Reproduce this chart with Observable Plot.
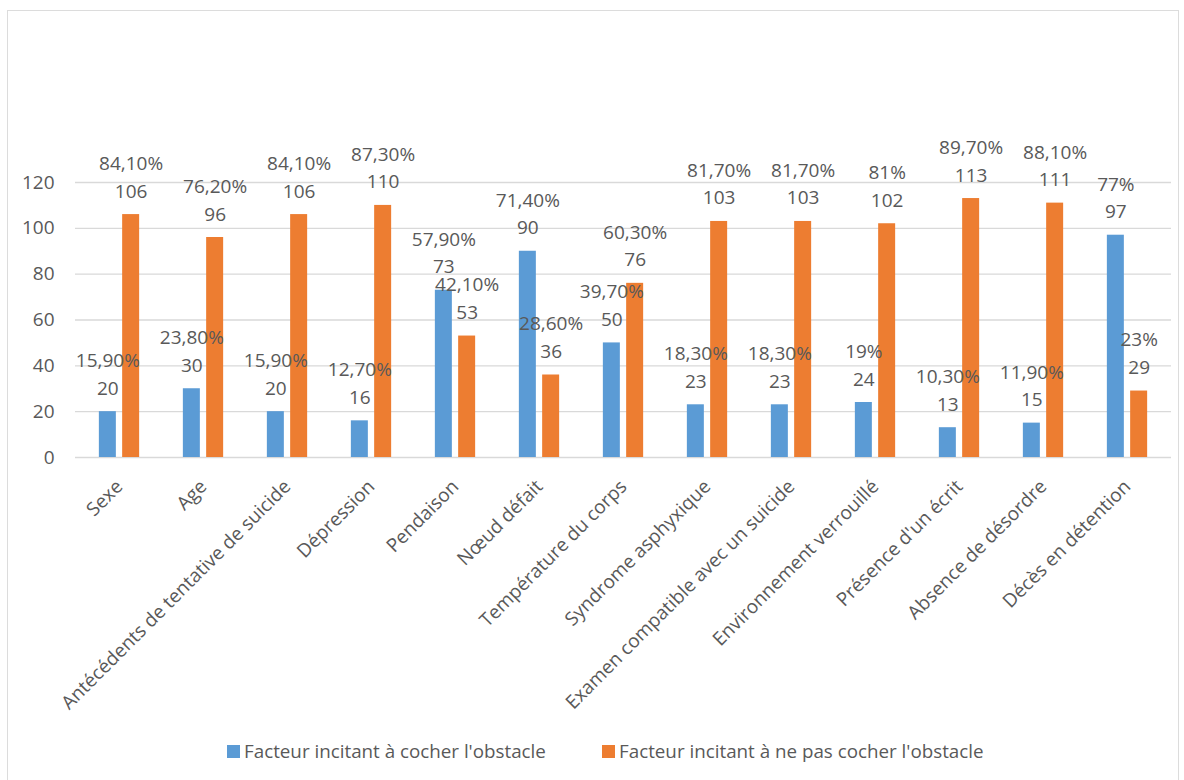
<!DOCTYPE html>
<html>
<head>
<meta charset="utf-8">
<script src="https://cdn.jsdelivr.net/npm/d3@7"></script>
<script src="https://cdn.jsdelivr.net/npm/@observablehq/plot@0.6"></script>
<style>
  html, body { margin: 0; padding: 0; background: #fff; }
  body { width: 1184px; height: 780px; position: relative; overflow: hidden; font-family: "Open Sans", sans-serif; }
  #frame { position: absolute; left: 7px; top: 10px; width: 1172px; height: 780px; border: 1.5px solid #dcdcdc; box-sizing: border-box; }
  #chart { position: absolute; left: 0; top: 0; }
  .leg { position: absolute; top: 738px; display: flex; align-items: center; font-size: 18.8px; color: #595959; white-space: nowrap; }
  .sw { width: 13px; height: 13px; margin-right: 4px; display: inline-block; }
</style>
</head>
<body>
<div id="frame"></div>
<div id="chart"></div>
<div class="leg" style="left:227px"><span class="sw" style="background:#5B9BD5"></span>Facteur incitant à cocher l'obstacle</div>
<div class="leg" style="left:602px"><span class="sw" style="background:#ED7D31"></span>Facteur incitant à ne pas cocher l'obstacle</div>
<script>
const categories = [
  "Sexe", "Age", "Antécédents de tentative de suicide", "Dépression", "Pendaison",
  "Nœud défait", "Température du corps", "Syndrome asphyxique",
  "Examen compatible avec un suicide", "Environnement verrouillé",
  "Présence d'un écrit", "Absence de désordre", "Décès en détention"
];
const cocherCounts = [20, 30, 20, 16, 73, 90, 50, 23, 23, 24, 13, 15, 97];
const cocherPct = ["15,90%", "23,80%", "15,90%", "12,70%", "57,90%", "71,40%", "39,70%", "18,30%", "18,30%", "19%", "10,30%", "11,90%", "77%"];
const pasCocherCounts = [106, 96, 106, 110, 53, 36, 76, 103, 103, 102, 113, 111, 29];
const pasCocherPct = ["84,10%", "76,20%", "84,10%", "87,30%", "42,10%", "28,60%", "60,30%", "81,70%", "81,70%", "81%", "89,70%", "88,10%", "23%"];
const yTicks = [0, 20, 40, 60, 80, 100, 120];

const blue = "#5B9BD5", orange = "#ED7D31", textColor = "#595959";

const cocher = categories.map((c, i) => ({cat: c, value: cocherCounts[i], label: cocherPct[i] + "\n" + cocherCounts[i]}));
const pasCocher = categories.map((c, i) => ({cat: c, value: pasCocherCounts[i], label: pasCocherPct[i] + "\n" + pasCocherCounts[i]}));

const W = 1184, H = 720;
const mTop = 182, mBottom = H - 457, mLeft = 75, mRight = W - 1171;
const band = (W - mLeft - mRight) / categories.length;
const half = band / 2;
const inner = 3, barW = 17.3;

const chart = Plot.plot({
  width: W,
  height: H,
  marginTop: mTop,
  marginBottom: mBottom,
  marginLeft: mLeft,
  marginRight: mRight,
  style: {fontFamily: "Open Sans, sans-serif", color: textColor, background: "transparent"},
  x: {domain: categories, padding: 0, label: null},
  y: {domain: [0, 120], label: null},
  marks: [
    Plot.gridY(yTicks, {stroke: "#d9d9d9", strokeOpacity: 1, strokeWidth: 1.3}),
    Plot.barY(cocher, {x: "cat", y: "value", fill: blue, insetLeft: half - inner - barW, insetRight: half + inner}),
    Plot.barY(pasCocher, {x: "cat", y: "value", fill: orange, insetLeft: half + inner, insetRight: half - inner - barW}),
    Plot.text(cocher, {x: "cat", y: "value", text: "label", dx: -(inner + barW / 2), dy: -17, lineAnchor: "bottom", lineHeight: 1.45, fontSize: 19, fill: textColor}),
    Plot.text(pasCocher, {x: "cat", y: "value", text: "label", dx: (inner + barW / 2), dy: -17, lineAnchor: "bottom", lineHeight: 1.45, fontSize: 19, fill: textColor}),
    Plot.axisY({ticks: yTicks, tickSize: 0, tickPadding: 21, fontSize: 19, label: null, fill: textColor}),
    Plot.axisX({tickSize: 0, tickPadding: 26, tickRotate: -45, fontSize: 19, label: null, fill: textColor})
  ]
});
document.getElementById("chart").appendChild(chart);
</script>
</body>
</html>
